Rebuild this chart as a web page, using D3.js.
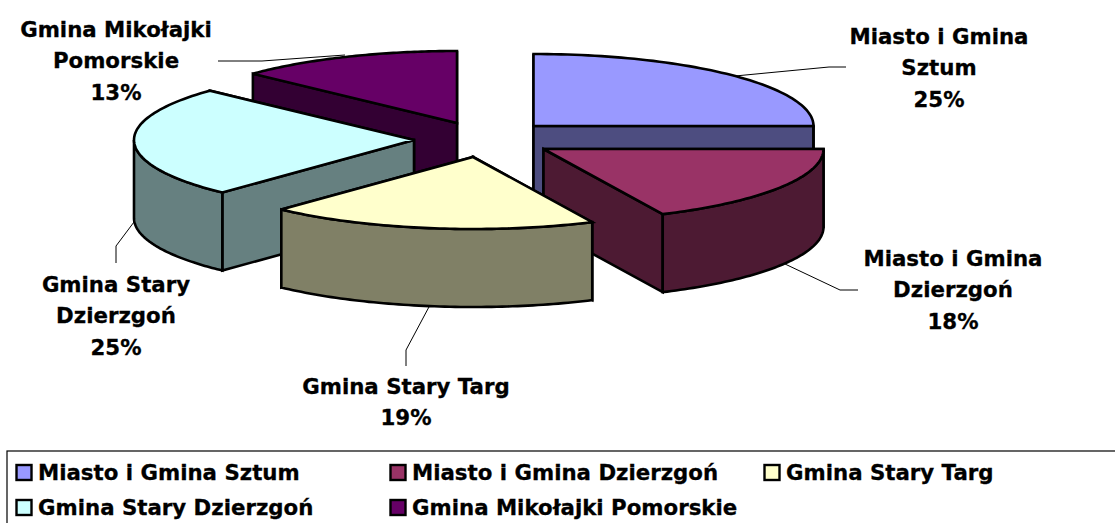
<!DOCTYPE html>
<html><head><meta charset="utf-8">
<script src="https://cdn.jsdelivr.net/npm/d3@7/dist/d3.min.js"></script>
<style>html,body{margin:0;padding:0;background:#fff}svg{display:block}
text{font-family:"DejaVu Sans",sans-serif;font-weight:bold;fill:#000;stroke:#000;stroke-width:0.3px}</style>
</head><body><svg id="c" width="1115" height="523"></svg>
<script>
const categories=["Miasto i Gmina Sztum","Miasto i Gmina Dzierzgoń","Gmina Stary Targ","Gmina Stary Dzierzgoń","Gmina Mikołajki Pomorskie"];
const shares=[25,18,19,25,13];
const topColors=["#9999FF","#993366","#FFFFCC","#CCFFFF","#660066"];
const wallColors=["#4D4D80","#4D1A33","#808066","#668080","#330033"];
const labelLines=[["Miasto i Gmina","Sztum","25%"],["Miasto i Gmina","Dzierzgoń","18%"],["Gmina Stary Targ","19%"],["Gmina Stary","Dzierzgoń","25%"],["Gmina Mikołajki","Pomorskie","13%"]];
// layout
const apex=[[533.5,126],[543.5,149],[473,157],[414,140],[457,123]];
const labelPos=[[939,36],[953,258],[406,386],[116,284],[116,29]];
const leaders=[[[735,76],[829,67],[846,67]],[[785,264],[840,290],[858,290]],[[430,305],[406,350],[406,366]],[[134,222],[116,246],[116,263]],[[218,61],[262,61],[345,55]]];
const legendPos=[[16.5,472.5],[390.5,472.5],[764.5,472.5],[16.5,507.5],[390.5,507.5]];
const RX=280,RY=72,DEPTH=78,LINE=31.7,FS=21.3;

const svg=d3.select("#c");
const arcs=d3.pie().sort(null).startAngle(0).endAngle(2*Math.PI)(shares);
const pt=(i,a,dz=0)=>[apex[i][0]+RX*Math.sin(a),apex[i][1]-RY*Math.cos(a)+dz];
const curve=(i,a0,a1,dz)=>d3.range(0,65).map(k=>pt(i,a0+(a1-a0)*k/64,dz));
const line=d3.line();
const poly=p=>line(p)+"Z";

const gL=svg.append("g").attr("fill","none").attr("stroke","#000").attr("stroke-width",1);
gL.selectAll("path").data(leaders).join("path").attr("d",d=>line(d));

const order=[4,0,3,1,2];
order.forEach(i=>{
  const {startAngle:a0,endAngle:a1}=arcs[i];
  const g=svg.append("g").attr("stroke","#000").attr("stroke-width",2.6).attr("stroke-linejoin","miter");
  const [ax,ay]=apex[i];
  // radial faces, farther edge first
  [a0,a1].sort((p,q)=>pt(i,p)[1]-pt(i,q)[1]).forEach(a=>{
    const p=pt(i,a),q=pt(i,a,DEPTH);
    g.append("path").attr("d",poly([[ax,ay],p,q,[ax,ay+DEPTH]])).attr("fill",wallColors[i]);
  });
  const w0=Math.max(a0,Math.PI/2),w1=Math.min(a1,3*Math.PI/2);
  if(w1>w0){
    g.append("path").attr("d",poly([...curve(i,w0,w1,0),...curve(i,w1,w0,DEPTH)])).attr("fill",wallColors[i]);
  }
  g.append("path").attr("d",poly([[ax,ay],...curve(i,a0,a1,0)])).attr("fill",topColors[i]);
});

labelLines.forEach((ls,i)=>{
  svg.append("text").attr("text-anchor","middle").attr("font-size",FS)
    .selectAll("tspan").data(ls).join("tspan")
    .attr("x",labelPos[i][0]).attr("y",(d,k)=>labelPos[i][1]+k*LINE).attr("dy","0.36em").text(d=>d);
});

svg.append("rect").attr("x",7).attr("y",451).attr("width",1120).attr("height",90).attr("fill","none").attr("stroke","#000").attr("stroke-width",1.2);
categories.forEach((c,i)=>{
  const [x,y]=legendPos[i];
  svg.append("rect").attr("x",x).attr("y",y-7.5).attr("width",15).attr("height",15).attr("fill",topColors[i]).attr("stroke","#000").attr("stroke-width",2.4);
  svg.append("text").attr("x",x+21.5).attr("y",y).attr("dy","0.36em").attr("font-size",FS).text(c);
});
</script></body></html>
